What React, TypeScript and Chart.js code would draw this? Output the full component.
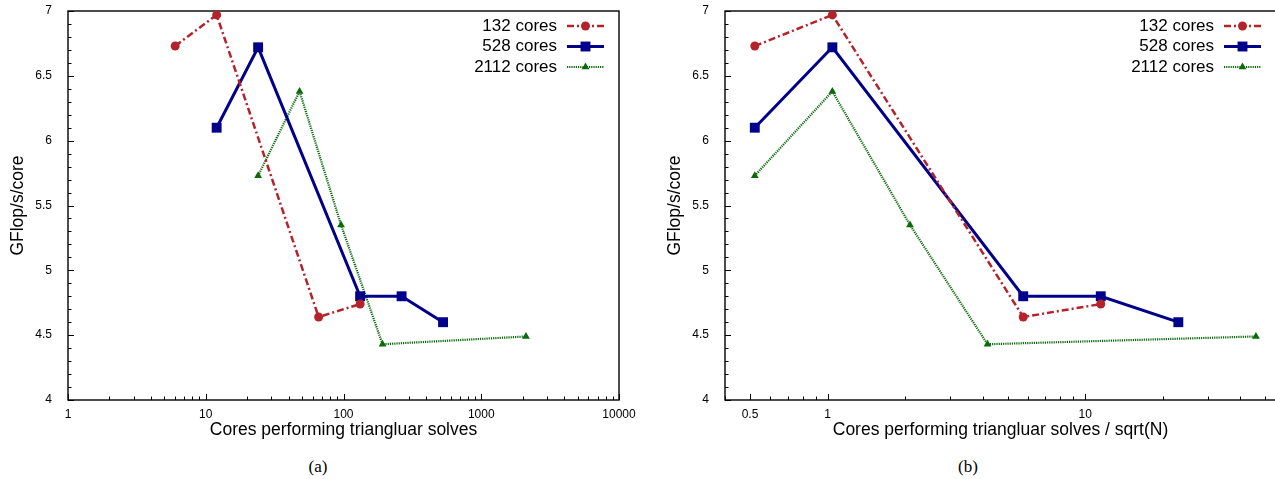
import React, { useEffect, useRef } from 'react';
import { Chart, registerables } from 'chart.js';

Chart.register(...registerables);

const FONT = '"Liberation Sans", Arial, Helvetica, sans-serif';

// ---- data ----
const seriesLabels = ['132 cores', '528 cores', '2112 cores'];
const seriesColors = ['#b5232a', '#00008b', '#0b6b0b'];

const cores132X = [6, 12, 66, 132];
const cores132Y = [6.73, 6.97, 4.64, 4.74];
const cores528X = [12, 24, 132, 264, 528];
const cores528Y = [6.1, 6.72, 4.8, 4.8, 4.6];
const cores2112X = [24, 48, 96, 192, 2112];
const cores2112Y = [5.73, 6.38, 5.35, 4.43, 4.49];

// x over sqrt(N)
const cores132Xnorm = [0.522, 1.044, 5.745, 11.49];
const cores528Xnorm = [0.522, 1.044, 5.745, 11.49, 22.98];
const cores2112Xnorm = [0.522, 1.044, 2.089, 4.178, 45.96];

const xTicksA = [1, 10, 100, 1000, 10000];
const xTicksB = [0.5, 1, 10];
const yTicks = [4, 4.5, 5, 5.5, 6, 6.5, 7];

const xTitleA = 'Cores performing triangluar solves';
const xTitleB = 'Cores performing triangluar solves / sqrt(N)';
const yTitle = 'GFlop/s/core';

// ---- plugin: frame, inward ticks, legend ----
const framePlugin = {
  id: 'frame',
  beforeDatasetsDraw(chart: any, _a: any, opts: any) {
    const { ctx, chartArea } = chart;
    const { left, right, top, bottom } = chartArea;
    const xs = chart.scales.x;
    const ys = chart.scales.y;
    ctx.save();
    ctx.strokeStyle = '#000';
    ctx.lineWidth = 1.4;
    ctx.strokeRect(left, top, right - left, bottom - top);
    ctx.lineWidth = 1;
    ctx.beginPath();
    const majors: number[] = opts.majorX || [];
    const e0 = Math.floor(Math.log10(xs.min)) - 1;
    const e1 = Math.ceil(Math.log10(xs.max)) + 1;
    for (let e = e0; e <= e1; e++) {
      for (let m = 1; m <= 9; m++) {
        const v = m * Math.pow(10, e);
        if (v < xs.min * 0.999 || v > xs.max * 1.001) continue;
        const isMajor = majors.some((t) => Math.abs(t - v) / t < 1e-6);
        const len = isMajor ? 6 : 3.5;
        const px = Math.round(xs.getPixelForValue(v)) + 0.5;
        ctx.moveTo(px, bottom);
        ctx.lineTo(px, bottom - len);
      }
    }
    for (let i = 0; i <= 30; i++) {
      const v = 4 + i * 0.1;
      const isMajor = i % 5 === 0;
      const len = isMajor ? 6 : 3.5;
      const py = Math.round(ys.getPixelForValue(v)) + 0.5;
      ctx.moveTo(left, py);
      ctx.lineTo(left + len, py);
    }
    ctx.stroke();
    ctx.restore();
  },
  afterDatasetsDraw(chart: any) {
    const { ctx, chartArea } = chart;
    const lineEnd = chartArea.right - 15;
    const lineStart = lineEnd - 37;
    const textRight = lineStart - 10;
    ctx.save();
    chart.data.datasets.forEach((ds: any, i: number) => {
      const y = chartArea.top + 15 + i * 20.5;
      ctx.fillStyle = '#000';
      ctx.font = `17px ${FONT}`;
      ctx.textAlign = 'right';
      ctx.textBaseline = 'middle';
      ctx.fillText(ds.label, textRight, y);
      ctx.strokeStyle = ds.borderColor;
      ctx.lineWidth = ds.borderWidth;
      ctx.setLineDash(ds.borderDash || []);
      ctx.beginPath();
      ctx.moveTo(lineStart, y);
      ctx.lineTo(lineEnd, y);
      ctx.stroke();
      ctx.setLineDash([]);
      const cx = (lineStart + lineEnd) / 2;
      const r = ds.pointRadius;
      ctx.fillStyle = ds.backgroundColor;
      ctx.beginPath();
      if (ds.pointStyle === 'circle') {
        ctx.arc(cx, y, r, 0, Math.PI * 2);
      } else if (ds.pointStyle === 'rect') {
        const s = r * Math.SQRT1_2;
        ctx.rect(cx - s, y - s, 2 * s, 2 * s);
      } else {
        const h = r * 1.5;
        const w = r * Math.sqrt(3);
        ctx.moveTo(cx, y - h * 2 / 3);
        ctx.lineTo(cx + w / 2, y + h / 3);
        ctx.lineTo(cx - w / 2, y + h / 3);
        ctx.closePath();
      }
      ctx.fill();
    });
    ctx.restore();
  },
};

function pts(xs: number[], ys: number[]) {
  return xs.map((x, i) => ({ x, y: ys[i] }));
}

function buildConfig(
  xSets: number[][],
  xMin: number,
  xMax: number,
  xTicks: number[],
  xTitle: string
): any {
  const ySets = [cores132Y, cores528Y, cores2112Y];
  const styles = [
    { dash: [7, 3, 2, 3], width: 2.5, point: 'circle', r: 4.5 },
    { dash: [], width: 3, point: 'rect', r: 7 },
    { dash: [1.2, 1], width: 2.2, point: 'triangle', r: 4.5 },
  ];
  return {
    type: 'line',
    data: {
      datasets: seriesLabels.map((label, i) => ({
        label,
        data: pts(xSets[i], ySets[i]),
        borderColor: seriesColors[i],
        backgroundColor: seriesColors[i],
        borderWidth: styles[i].width,
        borderDash: styles[i].dash,
        pointStyle: styles[i].point,
        pointRadius: styles[i].r,
        pointBorderWidth: 0,
        pointHoverRadius: styles[i].r,
        tension: 0,
        fill: false,
      })),
    },
    options: {
      responsive: false,
      animation: false,
      devicePixelRatio: 1,
      events: [],
      layout: { padding: { left: 0, right: 21, top: 11, bottom: 0 } },
      plugins: {
        legend: { display: false },
        tooltip: { enabled: false },
        frame: { majorX: xTicks },
      },
      scales: {
        x: {
          type: 'logarithmic',
          min: xMin,
          max: xMax,
          grid: { display: false },
          border: { display: false },
          afterBuildTicks: (s: any) => {
            s.ticks = xTicks.map((v) => ({ value: v }));
          },
          afterFit: (s: any) => {
            s.height = 41;
          },
          ticks: {
            autoSkip: false,
            maxRotation: 0,
            padding: -1,
            color: '#000',
            font: { family: FONT, size: 12, lineHeight: 1.2 },
            callback: (v: any) => String(v),
          },
          title: {
            display: true,
            text: xTitle,
            color: '#000',
            padding: { top: 0, bottom: 0 },
            font: { family: FONT, size: 17.5, lineHeight: 1.2 },
          },
        },
        y: {
          type: 'linear',
          min: 4,
          max: 7,
          grid: { display: false },
          border: { display: false },
          afterBuildTicks: (s: any) => {
            s.ticks = yTicks.map((v) => ({ value: v }));
          },
          afterFit: (s: any) => {
            s.width = 68;
            s.paddingTop = 0;
            s.paddingBottom = 0;
          },
          ticks: {
            padding: 8,
            color: '#000',
            font: { family: FONT, size: 12, lineHeight: 1.2 },
            callback: (v: any) => String(v),
          },
          title: {
            display: true,
            text: yTitle,
            color: '#000',
            padding: { top: 8, bottom: 0 },
            font: { family: FONT, size: 17.5, lineHeight: 1.2 },
          },
        },
      },
    },
    plugins: [framePlugin],
  };
}

function ChartCanvas(props: {
  xSets: number[][];
  xMin: number;
  xMax: number;
  xTicks: number[];
  xTitle: string;
  left: number;
}) {
  const ref = useRef<HTMLCanvasElement | null>(null);
  useEffect(() => {
    if (!ref.current) return;
    const chart = new Chart(
      ref.current,
      buildConfig(props.xSets, props.xMin, props.xMax, props.xTicks, props.xTitle)
    );
    return () => chart.destroy();
  }, []);
  return (
    <canvas
      ref={ref}
      width={640}
      height={441}
      style={{ position: 'absolute', left: props.left, top: 0, width: 640, height: 441 }}
    />
  );
}

const captionStyle: React.CSSProperties = {
  position: 'absolute',
  top: 456,
  width: 60,
  textAlign: 'center',
  fontFamily: '"Liberation Serif", "Times New Roman", serif',
  fontSize: 17,
  lineHeight: '22px',
  color: '#000',
};

export default function App() {
  return (
    <div
      style={{
        position: 'fixed',
        left: 0,
        top: 0,
        width: 1275,
        height: 479,
        overflow: 'hidden',
        background: '#fff',
      }}
    >
      <ChartCanvas
        xSets={[cores132X, cores528X, cores2112X]}
        xMin={1}
        xMax={10000}
        xTicks={xTicksA}
        xTitle={xTitleA}
        left={0}
      />
      <ChartCanvas
        xSets={[cores132Xnorm, cores528Xnorm, cores2112Xnorm]}
        xMin={0.4}
        xMax={55}
        xTicks={xTicksB}
        xTitle={xTitleB}
        left={657}
      />
      <div style={{ ...captionStyle, left: 318 - 30 }}>(a)</div>
      <div style={{ ...captionStyle, left: 968 - 30 }}>(b)</div>
    </div>
  );
}
